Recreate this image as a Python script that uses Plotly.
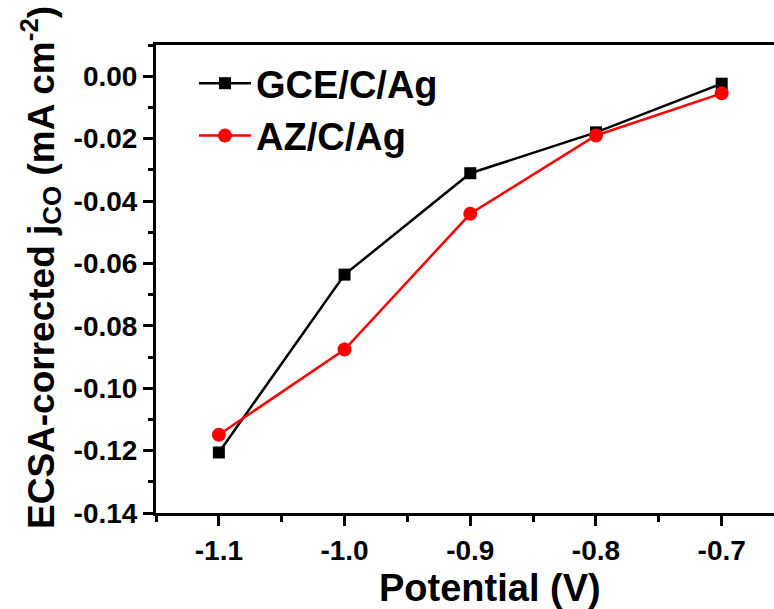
import plotly.graph_objects as go

# Potential (V) and ECSA-corrected CO partial current density (mA cm^-2)
potential = [-1.1, -1.0, -0.9, -0.8, -0.7]
j_gce = [-0.1206, -0.0636, -0.0311, -0.0180, -0.0024]
j_az = [-0.1149, -0.0876, -0.0441, -0.0190, -0.0055]

series_names = ["GCE/C/Ag", "AZ/C/Ag"]

x_tickvals = [-1.1, -1.0, -0.9, -0.8, -0.7]
x_ticktext = ["-1.1", "-1.0", "-0.9", "-0.8", "-0.7"]
y_tickvals = [0.00, -0.02, -0.04, -0.06, -0.08, -0.10, -0.12, -0.14]
y_ticktext = ["0.00", "-0.02", "-0.04", "-0.06", "-0.08", "-0.10", "-0.12", "-0.14"]

FONT = "Liberation Sans, Arial, Helvetica, sans-serif"

fig = go.Figure()
fig.add_trace(go.Scatter(
    x=potential, y=j_gce, name=series_names[0], mode="lines+markers",
    line=dict(color="#000000", width=2.5),
    marker=dict(symbol="square", size=12, color="#000000"),
))
fig.add_trace(go.Scatter(
    x=potential, y=j_az, name=series_names[1], mode="lines+markers",
    line=dict(color="#ff0000", width=2.5),
    marker=dict(symbol="circle", size=14, color="#ff0000"),
))

axis_common = dict(
    showline=True, linecolor="#000000", linewidth=3,
    ticks="outside", ticklen=10, tickwidth=2.5, tickcolor="#000000",
    showgrid=False, zeroline=False,
    tickfont=dict(family=FONT, size=28, color="#000000", weight="bold"),
)

fig.update_xaxes(
    range=[-1.15, -0.6584], tickmode="array",
    tickvals=x_tickvals, ticktext=x_ticktext, mirror=True,
    minor=dict(ticks="outside", ticklen=6, tickwidth=2.5, tickcolor="#000000",
               tickmode="linear", tick0=-1.15, dtick=0.05),
    **axis_common,
)
fig.update_yaxes(
    range=[-0.14, 0.01], tickmode="array",
    tickvals=y_tickvals, ticktext=y_ticktext, mirror=False,
    minor=dict(ticks="outside", ticklen=5, tickwidth=2.5, tickcolor="#000000",
               tickmode="linear", tick0=0.0, dtick=0.01),
    **axis_common,
)

fig.add_annotation(
    text="Potential (V)", xref="paper", yref="paper",
    x=(490 - 156) / 618, y=(513 - 588) / 468,
    xanchor="center", yanchor="middle", showarrow=False,
    font=dict(family=FONT, size=38, color="#000000", weight="bold"),
)
fig.add_annotation(
    text="ECSA-corrected j<sub>CO</sub> (mA cm<sup>-2</sup>)",
    xref="paper", yref="paper", textangle=-90,
    x=(40 - 156) / 618, y=(513 - 268) / 468,
    xanchor="center", yanchor="middle", showarrow=False,
    font=dict(family=FONT, size=37, color="#000000", weight="bold"),
)

fig.update_layout(
    width=774, height=609,
    margin=dict(l=156, r=0, t=45, b=96, pad=0),
    paper_bgcolor="#ffffff", plot_bgcolor="#ffffff",
    showlegend=True,
    legend=dict(
        x=(194 - 156) / 618, y=(513 - 52) / 468, xanchor="left", yanchor="top",
        bgcolor="rgba(0,0,0,0)", borderwidth=0,
        font=dict(family=FONT, size=38, color="#000000", weight="bold"),
        itemwidth=52, tracegroupgap=0,
    ),
)

fig.write_html("out.html")
